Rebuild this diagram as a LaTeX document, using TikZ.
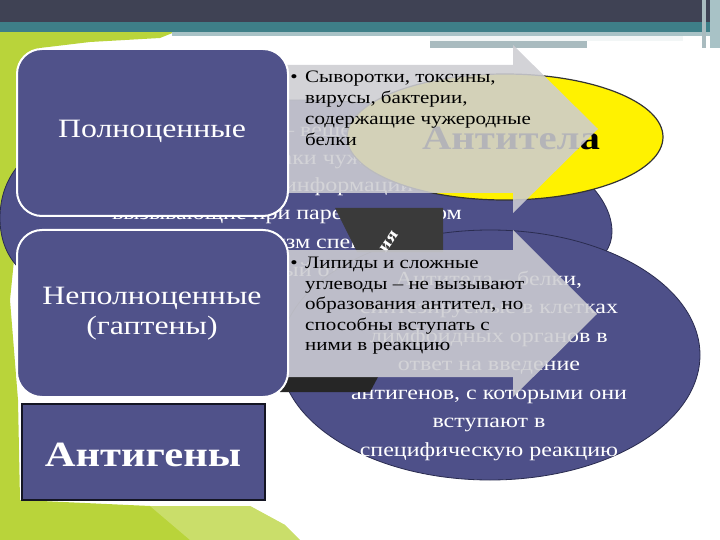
\documentclass[tikz,border=0pt]{standalone}
\usepackage{fontspec}
\setmainfont[FakeStretch=1.2]{Liberation Serif}
\definecolor{slate}{HTML}{3F4254}
\definecolor{tealband}{HTML}{3E7F88}
\definecolor{paleband}{HTML}{A8C2C6}
\definecolor{greyband}{HTML}{A9BBBF}
\definecolor{boxblue}{HTML}{50528A}
\definecolor{ellblue}{HTML}{4E5089}
\definecolor{ellline}{HTML}{2A2C50}
\definecolor{grn}{HTML}{B9D43A}
\definecolor{grnlight}{HTML}{D6E68A}
\definecolor{arrowgrey}{HTML}{CDCDD2}
\definecolor{darkbox}{HTML}{3A3A3A}
\tikzset{
  bluebox/.style={draw=white, line width=2pt, fill=boxblue, rounded corners=25pt, inner sep=0pt},
  boxtext/.style={text=white, font=\fontsize{26.5}{30}\selectfont, align=center},
  elltext/.style={text=white, font=\fontsize{20}{24}\selectfont, anchor=base, inner sep=0pt},
  bullettext/.style={text=black, font=\fontsize{17.5}{20}\selectfont, anchor=base west, inner sep=0pt},
  bulletdot/.style={text=black, font=\fontsize{17.5}{20}\selectfont, anchor=base, inner sep=0pt},
  greyarrow/.style={fill=arrowgrey, fill opacity=0.88, draw=none},
}
\begin{document}
\begin{tikzpicture}[x=1pt,y=-1pt]
\useasboundingbox (0,0) rectangle (720,540);
\fill[white] (0,0) rectangle (720,540);
% green background
\fill[grn] (0,32) -- (175,32) -- (160,38) -- (90,42) -- (40,48) -- (24,62) -- (20,200) -- (10,300) -- (18,400) -- (20,500) -- (150,506) -- (250,506) -- (285,525) -- (300,540) -- (0,540) -- cycle;
\fill[grnlight, opacity=0.6] (150,506) -- (250,506) -- (285,525) -- (300,540) -- (190,540) -- cycle;
% top bands
\fill[slate] (0,0) rectangle (720,22);
\fill[tealband] (0,22) rectangle (720,32);
\fill[paleband] (172,32) rectangle (720,36);
\fill[white!85!paleband] (430,36) rectangle (683,41);
\fill[greyband] (430,41) rectangle (587,48);
\fill[greyband] (702,0) rectangle (706,48);
\fill[paleband] (710,0) rectangle (720,48);
% left ellipse
\path[fill=ellblue, draw=ellline, line width=0.8pt] (300,100) .. controls (480,100) and (612,165) .. (612,232) .. controls (612,290) and (470,318) .. (300,318) .. controls (90,318) and (0,296) .. (0,218) .. controls (0,140) and (90,100) .. (300,100) -- cycle;
\node[elltext] (l1) at (287,137) {Антигены – вещества,};
\node[elltext] (l2) at (287,165) {несущие признаки чужеродной};
\node[elltext] (l3) at (287,192) {генетической информации и};
\node[elltext] (l4) at (287,220) {вызывающие при парентеральном};
\node[elltext] (l5) at (287,248) {введении в организм специфический};
\node[elltext] (l6) at (287,276) {иммунный ответ};
% right ellipse
\draw[fill=ellblue, draw=ellline, line width=0.8pt] (490,355) ellipse [x radius=210, y radius=125];
\node[elltext] (r1) at (489,285) {Антитела – белки,};
\node[elltext] (r2) at (489,313.5) {синтезируемые в клетках};
\node[elltext] (r3) at (489,342) {лимфоидных органов в};
\node[elltext] (r4) at (489,370.5) {ответ на введение};
\node[elltext] (r5) at (489,399) {антигенов, с которыми они};
\node[elltext] (r6) at (489,427.5) {вступают в};
\node[elltext] (r7) at (489,456) {специфическую реакцию};
% dark rotated box remnants
\fill[darkbox] (335,208) -- (443,208) -- (443,252) -- (357,252) -- cycle;
\fill[black!85] (280,377) -- (378,377) -- (370,392) -- (280,392) -- cycle;
\node[text=white, font=\bfseries\fontsize{17}{20}\selectfont, rotate=55, inner sep=0pt] (ia) at (389,242) {ия};
% yellow ellipse
\draw[fill=yellow, draw=black!80, line width=1.2pt] (505,137) ellipse [x radius=158, y radius=63];
\node[text=black, font=\bfseries\fontsize{34}{36}\selectfont, anchor=base, inner sep=0pt] (antitela) at (511,150) {Антитела};
% grey arrows
\path[greyarrow] (270,65) -- (513,65) -- (513,45) -- (598,129) -- (513,213) -- (513,193) -- (270,193) -- cycle;
\path[greyarrow] (270,250) -- (513,250) -- (513,230) -- (597,314) -- (513,397) -- (513,377) -- (270,377) -- cycle;
% bullet texts
\node[bulletdot] (b1) at (294,83) {•};
\node[bullettext] (a1) at (305,83) {Сыворотки, токсины,};
\node[bullettext] (a2) at (305,104) {вирусы, бактерии,};
\node[bullettext] (a3) at (305,125) {содержащие чужеродные};
\node[bullettext] (a4) at (305,146) {белки};
\node[bulletdot] (b2) at (294,268) {•};
\node[bullettext] (c1) at (305,268) {Липиды и сложные};
\node[bullettext] (c2) at (305,289) {углеводы – не вызывают};
\node[bullettext] (c3) at (305,309.5) {образования антител, но};
\node[bullettext] (c4) at (305,330) {способны вступать с};
\node[bullettext] (c5) at (305,350.5) {ними в реакцию};
% rounded boxes
\node[bluebox, minimum width=271pt, minimum height=167pt] (full) at (152.5,132.5) {};
\node[boxtext] (fulltext) at (152,131) {Полноценные};
\node[bluebox, minimum width=271pt, minimum height=167pt] (hapt) at (152.5,313.5) {};
\node[boxtext] (hapttext) at (152,314) {Неполноценные\\(гаптены)};
% Antigeny box
\node[draw=black!75!boxblue, line width=2pt, fill=boxblue, minimum width=243pt, minimum height=96pt, inner sep=0pt] (antigeny) at (143.5,452) {};
\node[text=white, font=\bfseries\fontsize{35.5}{40}\selectfont, inner sep=0pt, anchor=base] (antigenytext) at (143,466) {Антигены};
\end{tikzpicture}
\end{document}
